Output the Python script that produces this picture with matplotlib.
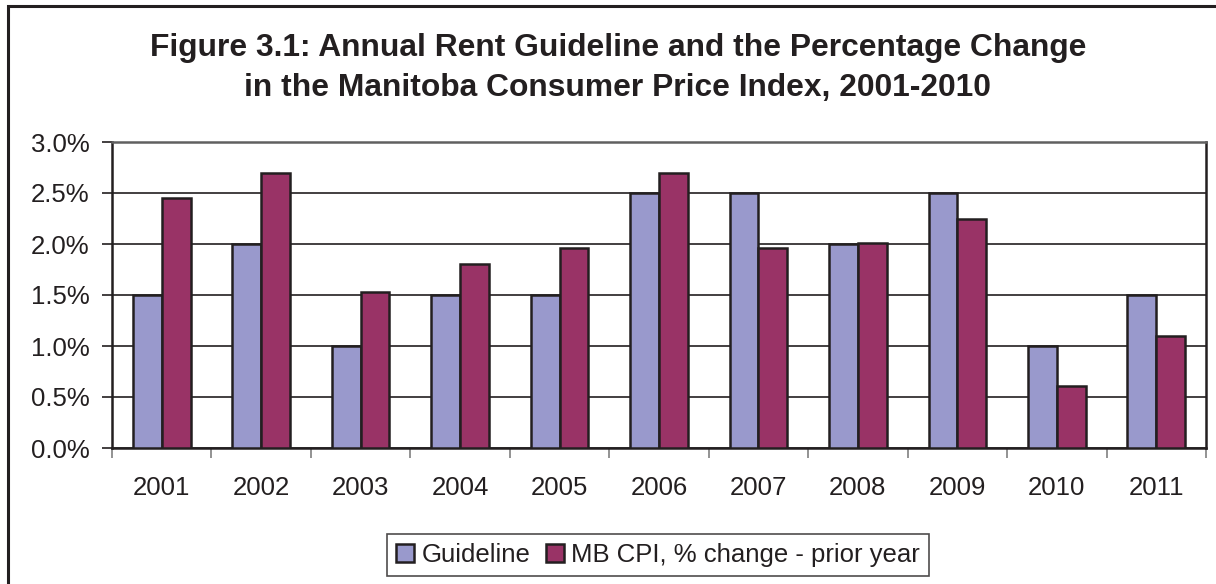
import matplotlib.pyplot as plt
from matplotlib.patches import Rectangle
import numpy as np

plt.rcParams['font.family'] = ['Liberation Sans', 'DejaVu Sans']

# data
years = ['2001', '2002', '2003', '2004', '2005', '2006', '2007', '2008', '2009', '2010', '2011']
guideline = [1.5, 2.0, 1.0, 1.5, 1.5, 2.5, 2.5, 2.0, 2.5, 1.0, 1.5]
cpi_change = [2.45, 2.70, 1.53, 1.80, 1.96, 2.70, 1.96, 2.01, 2.25, 0.61, 1.10]
y_ticks = [0.0, 0.5, 1.0, 1.5, 2.0, 2.5, 3.0]

guide_col = '#9999cc'
cpi_col = '#993366'
edge_col = '#231f20'

fig = plt.figure(figsize=(12.16, 5.84), dpi=100)
ax = fig.add_axes([112 / 1216, 1 - 448 / 584, (1206 - 112) / 1216, (448 - 142) / 584])

x = np.arange(len(years))
w = 0.29
ax.bar(x - w / 2, guideline, w, color=guide_col, edgecolor=edge_col, linewidth=1.8,
       label='Guideline', zorder=3)
ax.bar(x + w / 2, cpi_change, w, color=cpi_col, edgecolor=edge_col, linewidth=1.8,
       label='MB CPI, % change - prior year', zorder=3)

ax.set_xlim(-0.5, len(years) - 0.5)
ax.set_ylim(0, 3.0)
ax.set_yticks(y_ticks)
ax.set_yticklabels([f'{v:.1f}%' for v in y_ticks])
ax.yaxis.grid(True, color='#231f20', linewidth=1.2, zorder=0)

# year labels centred, ticks on the category boundaries
ax.set_xticks(x)
ax.set_xticklabels(years)
ax.set_xticks(np.arange(-0.5, len(years)), minor=True)
ax.tick_params(axis='x', which='major', length=0, pad=20, labelsize=18.5, colors='#231f20')
ax.tick_params(axis='x', which='minor', length=7, width=1.2, color='#808080')
ax.tick_params(axis='y', length=7.5, width=1.2, color='#231f20', labelsize=18.5, pad=8.5,
               labelcolor='#231f20')

for side in ['left', 'right', 'bottom']:
    ax.spines[side].set_color('#231f20')
    ax.spines[side].set_linewidth(1.8)
ax.spines['top'].set_color('#606060')
ax.spines['top'].set_linewidth(1.8)

fig.text(0.508, 0.918, 'Figure 3.1: Annual Rent Guideline and the Percentage Change',
         ha='center', va='center', fontsize=22.9, fontweight='bold', color='#231f20')
fig.text(0.508, 0.849, 'in the Manitoba Consumer Price Index, 2001-2010',
         ha='center', va='center', fontsize=22.9, fontweight='bold', color='#231f20')

leg = fig.legend(loc='center', bbox_to_anchor=(658 / 1216, 1 - 555 / 584), ncol=2,
                 fontsize=18.5, frameon=True, fancybox=False, handlelength=0.7,
                 handleheight=0.7, handletextpad=0.3, columnspacing=0.6,
                 borderpad=0.35, edgecolor='#231f20')
leg.get_frame().set_linewidth(1.2)
for t in leg.get_texts():
    t.set_color('#231f20')

# outer chart border, cut off at the right and bottom of the image
fig.patches.append(Rectangle((8 / 1216, -0.05), 1.1, 1 - 6 / 584 + 0.05,
                             transform=fig.transFigure, fill=False,
                             edgecolor='#231f20', linewidth=2.2))

fig.savefig('out.png', dpi=100)
